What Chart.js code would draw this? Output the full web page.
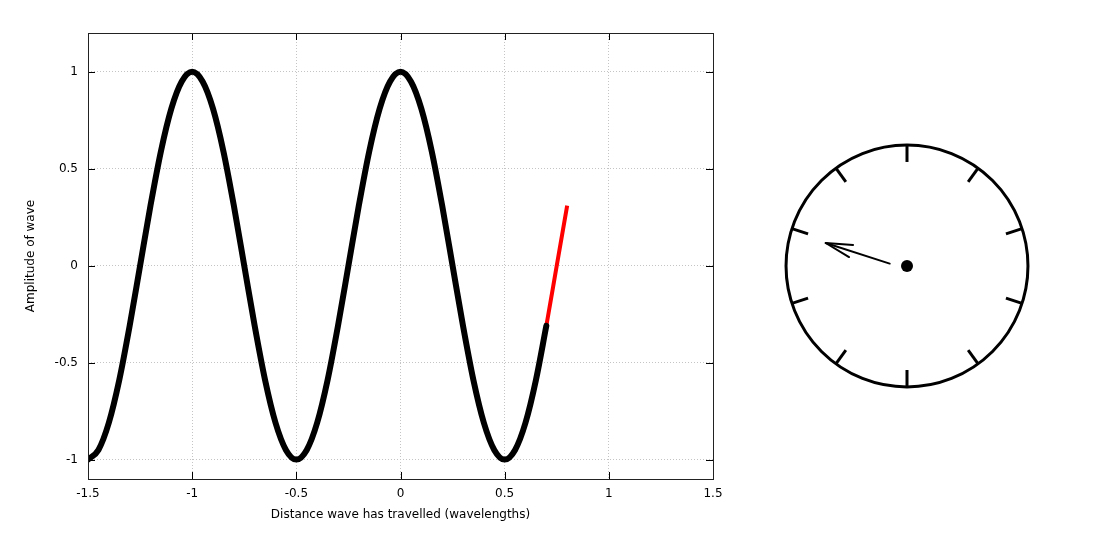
<!DOCTYPE html>
<html>
<head>
<meta charset="utf-8">
<title>Wave and phase clock</title>
<script src="https://cdn.jsdelivr.net/npm/chart.js@4/dist/chart.umd.min.js"></script>
<style>
  html, body { margin: 0; padding: 0; background: #fff; overflow: hidden; }
  #wrap { position: relative; width: 1119px; height: 534px; }
  #waveChart { position: absolute; left: 0; top: 0; }
  #clockChart { position: absolute; left: 772px; top: 131px; }
</style>
</head>
<body>
<div id="wrap">
  <canvas id="waveChart" width="1119" height="534"></canvas>
  <canvas id="clockChart" width="270" height="270"></canvas>
</div>
<script>
// Wave sampled along the distance axis (wavelengths)
const distance = [
  -1.50, -1.45, -1.40, -1.35, -1.30, -1.25, -1.20, -1.15, -1.10, -1.05,
  -1.00, -0.95, -0.90, -0.85, -0.80, -0.75, -0.70, -0.65, -0.60, -0.55,
  -0.50, -0.45, -0.40, -0.35, -0.30, -0.25, -0.20, -0.15, -0.10, -0.05,
   0.00,  0.05,  0.10,  0.15,  0.20,  0.25,  0.30,  0.35,  0.40,  0.45,
   0.50,  0.55,  0.60,  0.65,  0.70,  0.75,  0.80
];
const amplitude = [
  -1.00, -0.95, -0.81, -0.59, -0.31,  0.00,  0.31,  0.59,  0.81,  0.95,
   1.00,  0.95,  0.81,  0.59,  0.31,  0.00, -0.31, -0.59, -0.81, -0.95,
  -1.00, -0.95, -0.81, -0.59, -0.31,  0.00,  0.31,  0.59,  0.81,  0.95,
   1.00,  0.95,  0.81,  0.59,  0.31,  0.00, -0.31, -0.59, -0.81, -0.95,
  -1.00, -0.95, -0.81, -0.59, -0.31,  0.00,  0.31
];
const travelledUpTo = 0.70;   // black part ends here, red continues

const xTicks = [-1.5, -1, -0.5, 0, 0.5, 1, 1.5];
const yTicks = [-1, -0.5, 0, 0.5, 1];

// Clock face (unit = clock radius)
const ringRadius = 1;
const markAngles = [90, 54, 18, -18, -54, -90, -126, -162, 162, 126];
const markInner = 0.86;
const markOuter = 1.0;
const handTail = { x: -0.143, y: 0.020 };
const handTip = { x: -0.672, y: 0.190 };
const handBarbs = [{ x: -0.446, y: 0.174 }, { x: -0.479, y: 0.074 }];

const FONT = { family: '"DejaVu Sans", Arial, sans-serif', size: 12 };

const points = distance.map((d, i) => ({ x: d, y: amplitude[i] }));
const travelled = points.filter(p => p.x <= travelledUpTo + 1e-9);

// gnuplot-like frame with inward tick marks on all four sides
const framePlugin = {
    id: 'frame',
    afterDraw(chart) {
        const { ctx, chartArea: a, scales } = chart;
        const len = 7;
        ctx.save();
        ctx.strokeStyle = '#000';
        ctx.lineWidth = 1;
        ctx.beginPath();
        xTicks.forEach(v => {
            const px = Math.round(scales.x.getPixelForValue(v)) + 0.5;
            ctx.moveTo(px, a.bottom); ctx.lineTo(px, a.bottom - len);
            ctx.moveTo(px, a.top); ctx.lineTo(px, a.top + len);
        });
        yTicks.forEach(v => {
            const py = Math.round(scales.y.getPixelForValue(v)) + 0.5;
            ctx.moveTo(a.left, py); ctx.lineTo(a.left + len, py);
            ctx.moveTo(a.right, py); ctx.lineTo(a.right - len, py);
        });
        ctx.stroke();
        ctx.strokeStyle = '#222';
        ctx.strokeRect(Math.round(a.left) + 0.5, Math.round(a.top) + 0.5,
            Math.round(a.right - a.left), Math.round(a.bottom - a.top));
        ctx.restore();
    }
};

new Chart(document.getElementById('waveChart'), {
    type: 'line',
    data: {
        datasets: [
            {
                data: travelled,
                borderColor: '#000',
                borderWidth: 6,
                borderCapStyle: 'round',
                borderJoinStyle: 'round',
                cubicInterpolationMode: 'monotone',
                pointRadius: 0
            },
            {
                data: points,
                borderColor: '#ff0000',
                borderWidth: 4,
                borderCapStyle: 'butt',
                cubicInterpolationMode: 'monotone',
                pointRadius: 0
            }
        ]
    },
    options: {
        responsive: false,
        animation: false,
        events: [],
        layout: { autoPadding: false, padding: { left: 0, top: 33, right: 406, bottom: 0 } },
        plugins: { legend: { display: false }, tooltip: { enabled: false } },
        scales: {
            x: {
                type: 'linear',
                min: -1.5,
                max: 1.5,
                afterBuildTicks: s => { s.ticks = xTicks.map(v => ({ value: v })); },
                afterFit: s => { s.height = 55; },
                grid: { color: '#c4c4c4', lineWidth: 1, drawTicks: false },
                border: { display: false, dash: [1, 2] },
                ticks: {
                    font: FONT, color: '#000', padding: 8,
                    maxRotation: 0, autoSkip: false,
                    callback: v => String(v)
                },
                title: {
                    display: true,
                    text: 'Distance wave has travelled (wavelengths)',
                    font: FONT, color: '#000',
                    padding: { top: 0, bottom: 12 }
                }
            },
            y: {
                type: 'linear',
                min: -1.1,
                max: 1.2,
                afterBuildTicks: s => { s.ticks = yTicks.map(v => ({ value: v })); },
                afterFit: s => { s.width = 88; },
                grid: { color: '#c4c4c4', lineWidth: 1, drawTicks: false },
                border: { display: false, dash: [1, 2] },
                ticks: {
                    font: FONT, color: '#000', padding: 10,
                    autoSkip: false,
                    callback: v => String(v)
                },
                title: {
                    display: true,
                    text: 'Amplitude of wave',
                    font: FONT, color: '#000',
                    padding: { top: 24, bottom: 0 }
                }
            }
        }
    },
    plugins: [framePlugin]
});

// Clock: ring, ten marks, hand with open arrow head, centre dot
const rad = deg => deg * Math.PI / 180;
const markSets = markAngles.map(a => ({
    data: [
        { x: markInner * Math.cos(rad(a)), y: markInner * Math.sin(rad(a)) },
        { x: markOuter * Math.cos(rad(a)), y: markOuter * Math.sin(rad(a)) }
    ],
    showLine: true,
    borderColor: '#000',
    borderWidth: 3,
    pointRadius: 0
}));

new Chart(document.getElementById('clockChart'), {
    type: 'scatter',
    data: {
        datasets: [
            {
                data: [{ x: 0, y: 0 }],
                pointRadius: c => {
                    const s = c.chart.scales.x;
                    return s.getPixelForValue(ringRadius) - s.getPixelForValue(0);
                },
                pointBorderWidth: 3,
                pointBorderColor: '#000',
                pointBackgroundColor: 'rgba(0,0,0,0)'
            },
            ...markSets,
            {
                data: [handTail, handTip],
                showLine: true,
                borderColor: '#000',
                borderWidth: 2,
                borderCapStyle: 'round',
                pointRadius: 0
            },
            {
                data: [handBarbs[0], handTip, handBarbs[1]],
                showLine: true,
                borderColor: '#000',
                borderWidth: 2,
                borderJoinStyle: 'round',
                borderCapStyle: 'round',
                pointRadius: 0
            },
            {
                data: [{ x: 0, y: 0 }],
                pointRadius: 6,
                pointBorderWidth: 0,
                pointBackgroundColor: '#000'
            }
        ]
    },
    options: {
        responsive: false,
        animation: false,
        events: [],
        layout: { autoPadding: false, padding: 0 },
        plugins: { legend: { display: false }, tooltip: { enabled: false } },
        scales: {
            x: { type: 'linear', min: -1.116, max: 1.116, display: false },
            y: { type: 'linear', min: -1.116, max: 1.116, display: false }
        }
    }
});
</script>
</body>
</html>
